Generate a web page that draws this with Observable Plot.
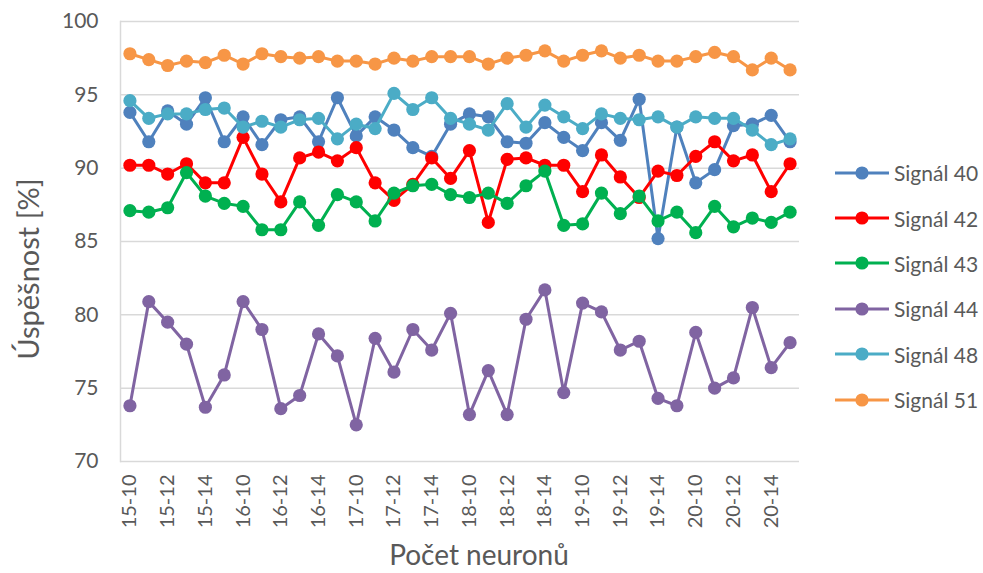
<!DOCTYPE html>
<html>
<head>
<meta charset="utf-8">
<script src="https://cdn.jsdelivr.net/npm/d3@7"></script>
<script src="https://cdn.jsdelivr.net/npm/@observablehq/plot@0.6"></script>
<style>
  body { margin: 0; background: #fff; }
  #wrap { position: relative; width: 983px; height: 573px; font-family: Lato, "Open Sans", sans-serif; color: #595959; overflow: hidden; }
  #chart { position: absolute; left: 0; top: 0; }
  .ytitle { position: absolute; left: 28px; top: 269px; transform: translate(-50%, -50%) rotate(-90deg); font-size: 29px; white-space: nowrap; line-height: 1.2; }
  .xtitle { position: absolute; left: 479px; top: 555px; transform: translate(-50%, -50%); font-size: 28px; white-space: nowrap; line-height: 1.2; }
  #legend { position: absolute; left: 835px; top: 150px; }
  .lrow { display: flex; align-items: center; height: 45.4px; font-size: 21px; white-space: nowrap; }
  .lrow svg { margin-right: 5px; }
</style>
</head>
<body>
<div id="wrap">
  <div id="chart"></div>
  <div class="ytitle">Úspěšnost [%]</div>
  <div class="xtitle">Počet neuronů</div>
  <div id="legend"></div>
</div>
<script>
const categories = [
  "15-10","15-11","15-12","15-13","15-14","15-15",
  "16-10","16-11","16-12","16-13","16-14","16-15",
  "17-10","17-11","17-12","17-13","17-14","17-15",
  "18-10","18-11","18-12","18-13","18-14","18-15",
  "19-10","19-11","19-12","19-13","19-14","19-15",
  "20-10","20-11","20-12","20-13","20-14","20-15"
];
const xTickLabels = ["15-10","15-12","15-14","16-10","16-12","16-14","17-10","17-12","17-14","18-10","18-12","18-14","19-10","19-12","19-14","20-10","20-12","20-14"];
const yTicks = [70, 75, 80, 85, 90, 95, 100];

const seriesNames = ["Signál 40", "Signál 42", "Signál 43", "Signál 44", "Signál 48", "Signál 51"];
const seriesColors = ["#4F81BD", "#FF0000", "#00B050", "#8064A2", "#4BACC6", "#F79646"];

const signal40 = [93.8, 91.8, 93.9, 93.0, 94.8, 91.8, 93.5, 91.6, 93.3, 93.5, 91.8, 94.8, 92.2, 93.5, 92.6, 91.4, 90.8, 93.0, 93.7, 93.5, 91.8, 91.7, 93.1, 92.1, 91.2, 93.1, 91.9, 94.7, 85.2, 92.8, 89.0, 89.9, 92.9, 93.0, 93.6, 91.8];
const signal42 = [90.2, 90.2, 89.6, 90.3, 89.0, 89.0, 92.1, 89.6, 87.7, 90.7, 91.1, 90.5, 91.4, 89.0, 87.8, 88.9, 90.7, 89.3, 91.2, 86.3, 90.6, 90.7, 90.2, 90.2, 88.4, 90.9, 89.4, 88.0, 89.8, 89.5, 90.8, 91.8, 90.5, 90.9, 88.4, 90.3];
const signal43 = [87.1, 87.0, 87.3, 89.7, 88.1, 87.6, 87.4, 85.8, 85.8, 87.7, 86.1, 88.2, 87.7, 86.4, 88.3, 88.8, 88.9, 88.2, 88.0, 88.3, 87.6, 88.8, 89.8, 86.1, 86.2, 88.3, 86.9, 88.1, 86.4, 87.0, 85.6, 87.4, 86.0, 86.6, 86.3, 87.0];
const signal44 = [73.8, 80.9, 79.5, 78.0, 73.7, 75.9, 80.9, 79.0, 73.6, 74.5, 78.7, 77.2, 72.5, 78.4, 76.1, 79.0, 77.6, 80.1, 73.2, 76.2, 73.2, 79.7, 81.7, 74.7, 80.8, 80.2, 77.6, 78.2, 74.3, 73.8, 78.8, 75.0, 75.7, 80.5, 76.4, 78.1];
const signal48 = [94.6, 93.4, 93.7, 93.7, 94.0, 94.1, 92.8, 93.2, 92.8, 93.3, 93.4, 92.0, 93.0, 92.7, 95.1, 94.0, 94.8, 93.4, 93.0, 92.6, 94.4, 92.8, 94.3, 93.5, 92.7, 93.7, 93.4, 93.3, 93.5, 92.8, 93.5, 93.4, 93.4, 92.6, 91.6, 92.0];
const signal51 = [97.8, 97.4, 97.0, 97.3, 97.2, 97.7, 97.1, 97.8, 97.6, 97.5, 97.6, 97.3, 97.3, 97.1, 97.5, 97.3, 97.6, 97.6, 97.6, 97.1, 97.5, 97.7, 98.0, 97.3, 97.7, 98.0, 97.5, 97.7, 97.3, 97.3, 97.6, 97.9, 97.6, 96.7, 97.5, 96.7];

const seriesValues = [signal40, signal42, signal43, signal44, signal48, signal51];

const rows = [];
seriesNames.forEach((name, k) => {
  seriesValues[k].forEach((v, i) => rows.push({ series: name, cat: categories[i], value: v }));
});

const gridColor = "#d9d9d9";
const marks = [
  Plot.gridY({ ticks: yTicks, stroke: gridColor, strokeOpacity: 1, strokeWidth: 1.5 }),
  Plot.frame({ anchor: "left", stroke: gridColor, strokeOpacity: 1, strokeWidth: 1.5 }),
  Plot.axisY({ ticks: yTicks, tickSize: 0, tickPadding: 22, fontSize: 21, label: null }),
  Plot.axisX({ ticks: xTickLabels, tickSize: 0, tickPadding: 13, tickRotate: -90, fontSize: 20, label: null })
];
seriesNames.forEach(name => {
  const d = rows.filter(r => r.series === name);
  marks.push(Plot.line(d, { x: "cat", y: "value", stroke: "series", strokeWidth: 3 }));
  marks.push(Plot.dot(d, { x: "cat", y: "value", fill: "series", r: 6.6 }));
});

const chart = Plot.plot({
  width: 983,
  height: 573,
  marginLeft: 120,
  marginRight: 184,
  marginTop: 21,
  marginBottom: 112,
  x: { type: "point", domain: categories, padding: 0.5 },
  y: { domain: [70, 100] },
  color: { domain: seriesNames, range: seriesColors },
  style: { fontFamily: "Lato, 'Open Sans', sans-serif", color: "#595959", background: "white" },
  marks
});
document.getElementById("chart").appendChild(chart);

const legend = document.getElementById("legend");
seriesNames.forEach((name, k) => {
  const row = document.createElement("div");
  row.className = "lrow";
  row.innerHTML = `<svg width="54" height="16"><line x1="0" y1="8" x2="54" y2="8" stroke="${seriesColors[k]}" stroke-width="3"/><circle cx="27" cy="8" r="6.6" fill="${seriesColors[k]}"/></svg><span>${name}</span>`;
  legend.appendChild(row);
});
</script>
</body>
</html>
